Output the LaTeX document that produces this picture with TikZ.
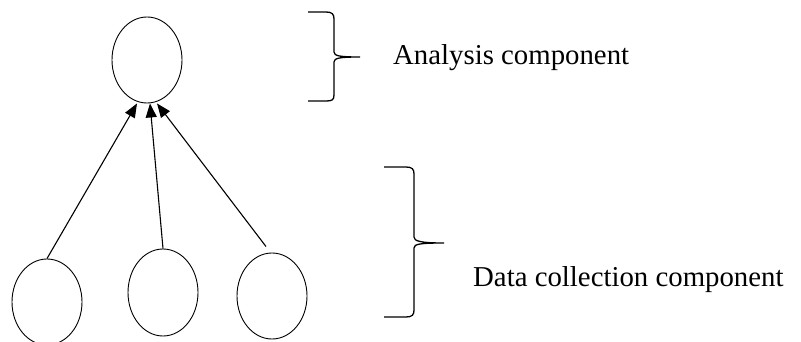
\documentclass[tikz,border=0pt]{standalone}
\usepackage{fontspec}
\setmainfont{Liberation Serif}
\usetikzlibrary{arrows.meta,shapes.geometric}
\begin{document}
\begin{tikzpicture}[x=1pt,y=-1pt,
  comp/.style={draw,ellipse,line width=0.9pt,minimum width=70pt,minimum height=86pt,inner sep=0pt},
  link/.style={line width=1.1pt,-{Triangle[length=14pt,width=11pt]}},
  bracepath/.style={line width=1.3pt},
  caption/.style={font=\fontsize{28.8}{34}\selectfont,inner sep=0pt,anchor=base west}]
\useasboundingbox (0,0) rectangle (801,342);

% analysis node and the three collectors
\node[comp] (top) at (147,60) {};
\node[comp] (c1) at (47,302) {};
\node[comp,minimum height=87pt] (c2) at (163,292.5) {};
\node[comp] (c3) at (272,296) {};

% data flows upward
\draw[link] (c1.north) -- ([xshift=-10pt]top.south);
\draw[link] (c2.north) -- ([xshift=3pt]top.south);
\draw[link] ([xshift=-6pt,yshift=6pt]c3.north) -- ([xshift=10pt]top.south);

% right-hand braces
\draw[bracepath] (308,12) -- (326,12) .. controls (332,12) and (334,14) .. (334,19)
  -- (334,52) .. controls (334,56) and (340,57) .. (360,57)
  .. controls (340,57) and (334,58) .. (334,62)
  -- (334,95) .. controls (334,100) and (332,101) .. (326,101) -- (308,101);
\draw[bracepath] (384,167) -- (406,167) .. controls (412,167) and (414,169) .. (414,174)
  -- (414,237) .. controls (414,241) and (420,243) .. (444,243)
  .. controls (420,243) and (414,244) .. (414,248)
  -- (414,310) .. controls (414,315) and (412,317) .. (406,317) -- (384,317);

% labels
\node[caption] (lab1) at (393,65) {Analysis component};
\node[caption] (lab2) at (473,286) {Data collection component};
\end{tikzpicture}
\end{document}
